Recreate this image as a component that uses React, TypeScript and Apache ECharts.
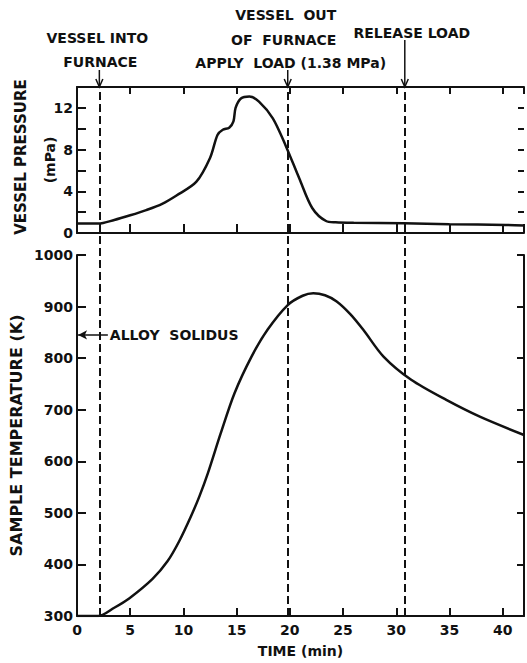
import React, { useEffect, useRef } from 'react';
import * as echarts from 'echarts';

// ---- data ----
const timeTicks = [0, 5, 10, 15, 20, 25, 30, 35, 40];
const pressureTicks = [0, 4, 8, 12];
const temperatureTicks = [300, 400, 500, 600, 700, 800, 900, 1000];

const pressureTime = [0, 2.0, 3.5, 5, 6.5, 8, 9.35, 11.2, 12.5, 13.2, 13.7, 14.3, 14.7, 14.9, 15.4, 16.2, 17.1, 18.4, 19.6, 20.9, 22.1, 23.4, 24.3, 26, 30.7, 35, 40.3, 42];
const pressureValue = [0.9, 0.9, 1.25, 1.7, 2.2, 2.8, 3.6, 4.9, 7.2, 9.4, 9.9, 10.1, 10.7, 12.0, 12.9, 13.1, 12.6, 11.0, 8.4, 5.2, 2.4, 1.15, 1.03, 0.98, 0.93, 0.85, 0.77, 0.72];

const temperatureTime = [0, 2.0, 3.5, 4.9, 7.1, 8.5, 9.6, 10.7, 11.5, 12.3, 13.5, 14.8, 16.4, 17.9, 19.8, 21.2, 22.2, 23.3, 24.4, 25.7, 26.9, 28.8, 31.4, 34.7, 37.9, 42];
const temperatureValue = [300, 300, 316, 334, 372, 406, 445, 493, 532, 577, 654, 732, 803, 855, 903, 921, 926, 922, 910, 885, 855, 803, 758, 719, 686, 651];

const eventTimes = [2.1, 19.8, 30.8];
const eventLabels = [
  ['VESSEL INTO', 'FURNACE'],
  ['VESSEL  OUT', 'OF  FURNACE', 'APPLY  LOAD (1.38 MPa)'],
  ['RELEASE LOAD'],
];
const solidusTemperature = 845;
const solidusLabel = 'ALLOY  SOLIDUS';

const pressureTitle = 'VESSEL PRESSURE';
const pressureUnit = '(mPa)';
const temperatureTitle = 'SAMPLE TEMPERATURE (K)';
const timeTitle = 'TIME (min)';

export default function App() {
  const ref = useRef<HTMLDivElement>(null);
  useEffect(() => {
    const chart = echarts.init(ref.current!, null, { renderer: 'svg' });
    const ink = '#111';
    const font = 'DejaVu Sans';
    const textBase = { fontFamily: font, fontWeight: 'bold' as const, fontSize: 14, color: ink };
    const line = { show: true, onZero: false, lineStyle: { color: ink, width: 2 } };
    const noLine = { show: false, onZero: false };
    const tick = (len: number) => ({ show: true, inside: true, length: len, lineStyle: { color: ink, width: 2 } });

    const option: any = {
      animation: false,
      grid: [
        { left: 77, right: 3, top: 87, height: 146 },
        { left: 77, right: 3, top: 255, height: 361 },
        { left: 77, right: 3, top: 87, height: 529 },
      ],
      xAxis: [
        { gridIndex: 0, type: 'value', min: 0, max: 42, interval: 5, position: 'bottom', axisLine: line, axisTick: tick(9), axisLabel: { show: false }, splitLine: { show: false } },
        { gridIndex: 0, type: 'value', min: 0, max: 42, interval: 5, position: 'top', axisLine: line, axisTick: tick(7), axisLabel: { show: false }, splitLine: { show: false } },
        {
          gridIndex: 1, type: 'value', min: 0, max: 42, interval: 5, position: 'bottom', axisLine: line, axisTick: tick(8),
          axisLabel: { ...textBase, margin: 7, formatter: (v: number) => (timeTicks.includes(v) ? String(v) : '') },
          splitLine: { show: false },
          name: timeTitle, nameLocation: 'middle', nameGap: 28, nameTextStyle: { ...textBase },
        },
        { gridIndex: 2, type: 'value', min: 0, max: 42, show: false },
      ],
      yAxis: [
        {
          gridIndex: 0, type: 'value', min: 0, max: 14, interval: 2, position: 'left', axisLine: line, axisTick: tick(9),
          axisLabel: { ...textBase, margin: 4, formatter: (v: number) => (pressureTicks.includes(v) ? String(v) : '') },
          splitLine: { show: false },
        },
        { gridIndex: 0, type: 'value', min: 0, max: 14, interval: 2, position: 'right', axisLine: noLine, axisTick: tick(6), axisLabel: { show: false }, splitLine: { show: false } },
        {
          gridIndex: 1, type: 'value', min: 300, max: 1000, interval: 100, position: 'left', axisLine: line, axisTick: tick(9),
          axisLabel: { ...textBase, margin: 4, formatter: (v: number) => (temperatureTicks.includes(v) ? String(v) : '') },
          splitLine: { show: false },
        },
        { gridIndex: 1, type: 'value', min: 300, max: 1000, interval: 100, position: 'right', axisLine: line, axisTick: tick(7), axisLabel: { show: false }, splitLine: { show: false } },
        { gridIndex: 2, type: 'value', min: 0, max: 1, show: false },
      ],
      series: [
        {
          type: 'line', xAxisIndex: 0, yAxisIndex: 0, smooth: 0.3, showSymbol: false, silent: true,
          data: pressureTime.map((t, i) => [t, pressureValue[i]]),
          lineStyle: { color: ink, width: 2.5 },
        },
        {
          type: 'line', xAxisIndex: 2, yAxisIndex: 2, smooth: 0.3, showSymbol: false, silent: true,
          data: temperatureTime.map((t, i) => [t, temperatureValue[i]]),
          lineStyle: { color: ink, width: 2.5 },
          markLine: {
            silent: true, animation: false, symbol: ['none', 'arrow'], symbolSize: [7, 9],
            label: { show: false },
            lineStyle: { color: ink, width: 1.5, type: 'solid' },
            data: [[{ coord: [2.9, solidusTemperature] }, { coord: [0.1, solidusTemperature] }]],
          },
        },
        {
          type: 'line', xAxisIndex: 3, yAxisIndex: 4, data: [], silent: true,
          markLine: {
            silent: true, animation: false, symbol: 'none', label: { show: false },
            lineStyle: { color: ink, width: 2, type: [8, 4] },
            data: eventTimes.map((t) => ({ xAxis: t })),
          },
        },
      ],
    };
    chart.setOption(option);

    const px = (t: number) => chart.convertToPixel({ xAxisIndex: 0 }, t) as number;
    const topY = chart.convertToPixel({ yAxisIndex: 0 }, 14) as number;
    const solY = chart.convertToPixel({ yAxisIndex: 2 }, solidusTemperature) as number;
    const pMid = ((chart.convertToPixel({ yAxisIndex: 0 }, 0) as number) + topY) / 2;
    const tMid = ((chart.convertToPixel({ yAxisIndex: 2 }, 300) as number) + (chart.convertToPixel({ yAxisIndex: 2 }, 1000) as number)) / 2;

    const g: any[] = [];
    const txt = (text: string, x: number, y: number, extra: any = {}) => ({
      type: 'text', x, y, silent: true,
      style: { text, font: `bold 14px "${font}"`, fill: ink, align: 'center', verticalAlign: 'middle', ...extra },
    });
    const arrowTops = [70, 70, 40];
    const labelLayout: [number, number][][] = [
      [[-2, 38], [1, 62]],
      [[-2, 15], [-4, 40], [3, 63]],
      [[7, 33]],
    ];
    eventTimes.forEach((t, i) => {
      const x = px(t);
      g.push({ type: 'line', silent: true, shape: { x1: x, y1: arrowTops[i], x2: x, y2: topY }, style: { stroke: ink, lineWidth: 1.5 } });
      g.push({ type: 'polyline', silent: true, shape: { points: [[x - 3.5, topY - 8], [x, topY], [x + 3.5, topY - 8]] }, style: { stroke: ink, lineWidth: 1.5, fill: 'none' } });
      eventLabels[i].forEach((s, j) => {
        const [dx, y] = labelLayout[i][j];
        g.push(txt(s, x + dx, y));
      });
    });
    g.push(txt(solidusLabel, px(2.9) + 2, solY, { align: 'left' }));
    g.push({ type: 'text', x: 21, y: pMid - 3, rotation: Math.PI / 2, silent: true, style: { text: pressureTitle, font: `bold 15px "${font}"`, fill: ink, align: 'center', verticalAlign: 'middle' } });
    g.push({ type: 'text', x: 50, y: pMid, rotation: Math.PI / 2, silent: true, style: { text: pressureUnit, font: `bold 14px "${font}"`, fill: ink, align: 'center', verticalAlign: 'middle' } });
    g.push({ type: 'text', x: 16, y: tMid, rotation: Math.PI / 2, silent: true, style: { text: temperatureTitle, font: `bold 16px "${font}"`, fill: ink, align: 'center', verticalAlign: 'middle' } });
    chart.setOption({ graphic: g });

    return () => chart.dispose();
  }, []);
  return <div ref={ref} style={{ position: 'fixed', left: 0, top: 0, width: 527, height: 663, background: '#fff' }} />;
}
